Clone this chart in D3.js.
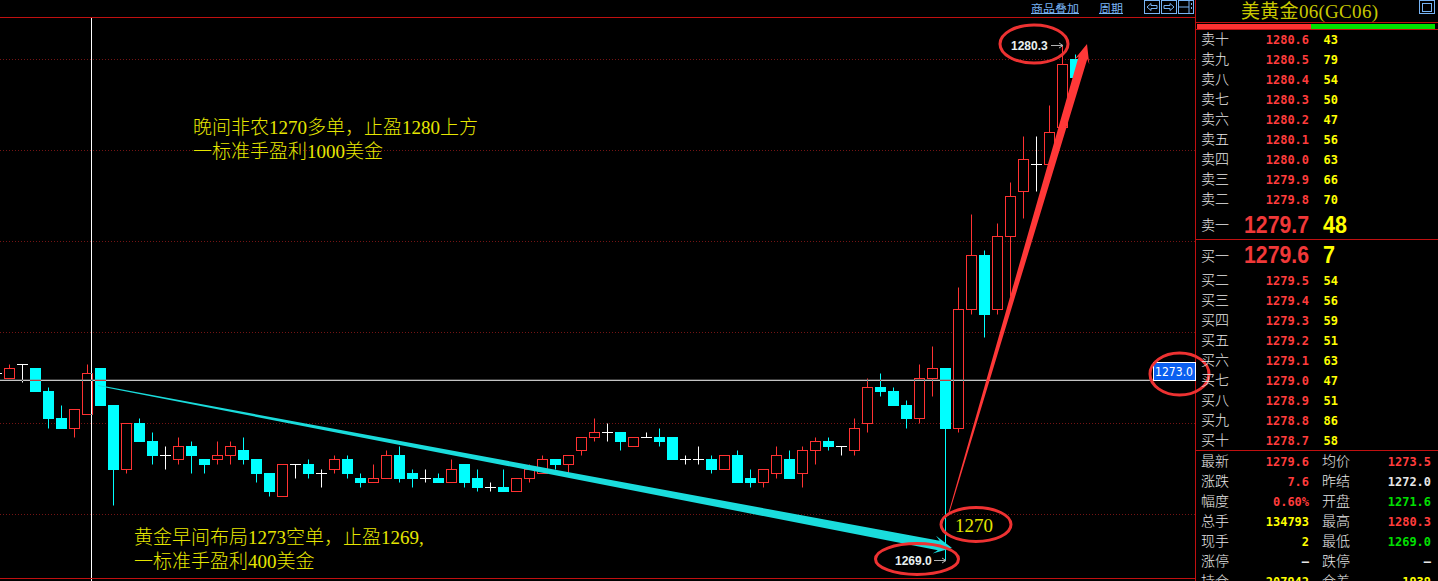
<!DOCTYPE html>
<html><head><meta charset="utf-8">
<script src="https://cdn.jsdelivr.net/npm/d3@7"></script>
<style>html,body{margin:0;padding:0;background:#000;overflow:hidden}svg{display:block}</style>
</head><body><div id="c"></div>
<script>
// candles: [open, close, high, low]
const candles=[
[1273.1,1273.1,1273.1,1273.1],
[1273.0,1273.2,1273.3,1273.0],[1273.3,1273.3,1273.3,1272.9],[1273.2,1272.7,1273.2,1272.7],[1272.7,1272.1,1272.8,1271.9],
[1272.1,1271.9,1272.4,1271.9],[1271.9,1272.3,1272.3,1271.7],[1272.2,1273.1,1273.3,1272.2],[1273.2,1272.4,1273.2,1272.4],
[1272.4,1271.0,1272.4,1270.2],[1271.0,1272.0,1272.0,1270.9],[1272.0,1271.6,1272.1,1271.6],[1271.6,1271.3,1271.8,1271.1],
[1271.3,1271.3,1271.5,1271.0],[1271.2,1271.5,1271.7,1271.1],[1271.5,1271.3,1271.6,1270.9],[1271.2,1271.1,1271.2,1270.9],
[1271.2,1271.3,1271.6,1271.1],[1271.3,1271.5,1271.6,1271.1],[1271.4,1271.2,1271.7,1271.1],[1271.2,1270.9,1271.2,1270.7],
[1270.9,1270.5,1270.9,1270.4],[1270.4,1271.1,1271.1,1270.4],[1271.1,1271.1,1271.1,1270.8],[1271.1,1270.9,1271.2,1270.8],
[1270.9,1270.9,1271.0,1270.6],[1271.0,1271.2,1271.3,1270.9],[1271.2,1270.9,1271.3,1270.8],[1270.8,1270.7,1270.9,1270.6],
[1270.7,1270.8,1271.1,1270.7],[1270.8,1271.3,1271.4,1270.8],[1271.3,1270.8,1271.5,1270.7],[1270.9,1270.8,1271.0,1270.6],
[1270.8,1270.8,1271.0,1270.7],[1270.8,1270.7,1270.9,1270.7],[1270.7,1271.0,1271.2,1270.7],[1271.1,1270.7,1271.1,1270.6],
[1270.8,1270.6,1271.0,1270.5],[1270.6,1270.6,1270.7,1270.5],[1270.6,1270.5,1271.0,1270.5],[1270.5,1270.8,1270.8,1270.5],
[1270.8,1271.0,1271.1,1270.7],[1270.9,1271.2,1271.3,1270.9],[1271.2,1271.1,1271.2,1271.0],[1271.1,1271.3,1271.3,1270.9],
[1271.4,1271.7,1271.7,1271.3],[1271.7,1271.8,1272.1,1271.6],[1271.8,1271.8,1272.0,1271.6],[1271.8,1271.6,1271.8,1271.4],
[1271.5,1271.7,1271.7,1271.5],[1271.7,1271.7,1271.8,1271.7],[1271.7,1271.6,1271.9,1271.5],[1271.7,1271.2,1271.7,1271.2],
[1271.2,1271.2,1271.3,1271.1],[1271.2,1271.2,1271.5,1271.1],[1271.2,1271.0,1271.3,1270.9],[1271.0,1271.3,1271.3,1271.0],
[1271.3,1270.7,1271.4,1270.7],[1270.8,1270.7,1271.0,1270.6],[1270.7,1271.0,1271.0,1270.6],[1270.9,1271.3,1271.5,1270.8],
[1271.2,1270.8,1271.4,1270.8],[1270.9,1271.4,1271.5,1270.6],[1271.4,1271.6,1271.7,1271.1],[1271.6,1271.5,1271.7,1271.4],
[1271.5,1271.5,1271.5,1271.3],[1271.4,1271.9,1272.1,1271.3],[1272.0,1272.8,1273.0,1271.8],[1272.8,1272.7,1273.1,1272.6],
[1272.7,1272.4,1272.8,1272.4],[1272.4,1272.1,1272.5,1271.9],[1272.1,1273.0,1273.3,1272.0],[1273.0,1273.2,1273.7,1272.6],
[1273.2,1271.9,1273.2,1269.0],[1271.9,1274.5,1275.0,1271.8],[1274.5,1275.7,1276.6,1274.4],[1275.7,1274.4,1275.8,1273.9],
[1274.5,1276.1,1276.4,1274.4],[1276.1,1277.0,1277.3,1274.8],[1277.1,1277.8,1278.3,1276.5],[1277.7,1277.7,1278.3,1277.1],
[1277.7,1278.4,1279.0,1277.7],[1278.5,1279.9,1280.3,1278.5],[1280.0,1279.6,1280.1,1279.6]
];
const gridPrices=[1270,1272,1274,1276,1278,1280];
const crossPrice=1272.95;
const maxPrice=1280.3, minPrice=1269.0;
const askLabels=["卖十","卖九","卖八","卖七","卖六","卖五","卖四","卖三","卖二"];
const askPrices=["1280.6","1280.5","1280.4","1280.3","1280.2","1280.1","1280.0","1279.9","1279.8"];
const askSizes=["43","79","54","50","47","56","63","66","70"];
const bidLabels=["买二","买三","买四","买五","买六","买七","买八","买九","买十"];
const bidPrices=["1279.5","1279.4","1279.3","1279.2","1279.1","1279.0","1278.9","1278.8","1278.7"];
const bidSizes=["54","56","59","51","63","47","51","86","58"];
const statLeftLabels=["最新","涨跌","幅度","总手","现手","涨停","持仓"];
const statLeftValues=["1279.6","7.6","0.60%","134793","2","—","207942"];
const statLeftColors=["#ff3c3c","#ff3c3c","#ff3c3c","#ffff00","#ffff00","#e8e8e8","#ffff00"];
const statRightLabels=["均价","昨结","开盘","最高","最低","跌停","仓差"];
const statRightValues=["1273.5","1272.0","1271.6","1280.3","1269.0","—","1939"];
const statRightColors=["#ff3c3c","#e8e8e8","#00e000","#ff3c3c","#00e000","#e8e8e8","#ffff00"];

const W=1438,H=581,RED="#ff3232",CY="#00ffff",GRID="#741414",FRAME="#c01010";
const cjk='"Noto Sans CJK SC"', serif='"Liberation Serif","Noto Sans CJK SC"', mono='"DejaVu Sans Mono",monospace';
const svg=d3.select("#c").append("svg").attr("width",W).attr("height",H).style("background","#000");
const x=d3.scaleLinear().domain([0,83]).range([-3.5,1075.5]);
const y=d3.scaleLinear().domain([1270,1280]).range([514.5,59.5]);
const py=p=>Math.round(y(p)-0.5)+0.5;

const plot=svg.append("g").style("isolation","isolate");
// grid
plot.selectAll("line.g").data(gridPrices).join("line").attr("class","g")
 .attr("x1",0).attr("x2",1195).attr("y1",d=>y(d)).attr("y2",d=>y(d))
 .attr("stroke",GRID).attr("stroke-dasharray","1,2");
// candles
candles.forEach((d,i)=>{
 const [o,c,h,l]=d,cx=x(i),col=c>o?RED:c<o?CY:"#ffffff";
 const top=py(Math.max(o,c)),bot=py(Math.min(o,c));
 const g=plot.append("g");
 g.append("line").attr("x1",cx).attr("x2",cx).attr("y1",py(h)).attr("y2",py(l)).attr("stroke",col);
 if(c>o){
  g.append("rect").attr("x",cx-5).attr("width",10).attr("y",top).attr("height",bot-top)
   .attr("fill","#000").attr("stroke",col);
 }else if(c<o){
  g.append("rect").attr("x",cx-5.5).attr("width",11).attr("y",top-0.5).attr("height",bot-top+1).attr("fill",col);
 }else{
  g.append("line").attr("x1",cx-5.5).attr("x2",cx+5.5).attr("y1",top).attr("y2",top).attr("stroke",col);
 }
});
// crosshair (XOR look)
plot.append("line").attr("x1",0).attr("x2",1153).attr("y1",y(crossPrice)).attr("y2",y(crossPrice))
 .attr("stroke","#fff").style("mix-blend-mode","difference");
plot.append("line").attr("x1",91.5).attr("x2",91.5).attr("y1",18).attr("y2",H)
 .attr("stroke","#fff").style("mix-blend-mode","difference");

// frame
const fr=(a,b,c,d,s=FRAME)=>svg.append("line").attr("x1",a).attr("y1",b).attr("x2",c).attr("y2",d).attr("stroke",s);
fr(0,17.5,1195,17.5); fr(1195.5,0,1195.5,H); fr(0,578.5,1195,578.5);
fr(1196,239.5,W,239.5); fr(1196,450.5,W,450.5);
fr(1196,22.5,W,22.5); fr(1196,29.5,W,29.5);
svg.append("rect").attr("x",1197).attr("y",24).attr("width",114).attr("height",5).attr("fill",RED);
svg.append("rect").attr("x",1311).attr("y",24).attr("width",124).attr("height",5).attr("fill","#00e000");

// top toolbar
const BL="#78b4f4";
const tb=(t,xx,w)=>{svg.append("text").text(t).attr("x",xx).attr("y",12.8).attr("fill",BL)
   .attr("font-family",cjk).attr("font-size",11).attr("textLength",w).attr("lengthAdjust","spacingAndGlyphs");
   svg.append("line").attr("x1",xx).attr("x2",xx+w).attr("y1",13.5).attr("y2",13.5).attr("stroke",BL);};
tb("商品叠加",1031,48); tb("周期",1099,24);
[1145,1162,1179,1420].forEach((bx,i)=>{
 svg.append("rect").attr("x",bx-.5).attr("y",.5).attr("width",15).attr("height",13).attr("fill","none").attr("stroke",BL);
 if(i===0) svg.append("path").attr("d",`M${bx+2} 7L${bx+6} 3.5V5.5H${bx+12}V8.5H${bx+6}V10.5Z`).attr("fill","none").attr("stroke",BL);
 if(i===1) svg.append("path").attr("d",`M${bx+12} 7L${bx+8} 3.5V5.5H${bx+2}V8.5H${bx+8}V10.5Z`).attr("fill","none").attr("stroke",BL);
 if(i===2) svg.append("path").attr("d",`M${bx} 7H${bx+10}M${bx+10} 1V13M${bx+12.5} 3V5M${bx+12.5} 7V9`).attr("fill","none").attr("stroke",BL);
 if(i===3) svg.append("rect").attr("x",bx+2.5).attr("y",3.5).attr("width",9).attr("height",8).attr("fill","none").attr("stroke",BL);
});

// annotations text
const note=(t,xx,yy)=>svg.append("text").text(t).attr("x",xx).attr("y",yy).attr("fill","#e6e600")
  .attr("font-family",serif).attr("font-size",19).attr("font-weight",300);
note("晚间非农1270多单，止盈1280上方",193,134);
note("一标准手盈利1000美金",193,158);
note("黄金早间布局1273空单，止盈1269,",134,544);
note("一标准手盈利400美金",134,568);
note("1270",955,532);

// extreme labels
const ext=(p,tx,ax)=>{
 svg.append("text").text(p.toFixed(1)).attr("x",tx).attr("y",py(p)+4).attr("fill","#e8f0f0")
  .attr("font-family",'"Liberation Sans"').attr("font-size",12).attr("font-weight",700);
 svg.append("path").attr("d",`M${ax} ${py(p)}H${ax+12}M${ax+8} ${py(p)-2.5}L${ax+12} ${py(p)}L${ax+8} ${py(p)+2.5}`)
  .attr("fill","none").attr("stroke","#b0b0b0");
};
ext(maxPrice,1011,1051); ext(minPrice,895,934);

// crosshair price tag
svg.append("rect").attr("x",1153.5).attr("y",362.5).attr("width",42).attr("height",18).attr("fill","#0a5ff0").attr("stroke","#fff");
svg.append("text").text("1273.0").attr("x",1155).attr("y",376).attr("fill","#fff")
 .attr("font-family",'"DejaVu Sans"').attr("font-size",12).attr("textLength",38).attr("lengthAdjust","spacingAndGlyphs");

// taper arrows
const arrow=(sx,sy,tx,ty,w0,w1,headLen,headW,col)=>{
 const L=Math.hypot(tx-sx,ty-sy),ux=(tx-sx)/L,uy=(ty-sy)/L,nx=-uy,ny=ux;
 const nk=L-headLen*0.75, bk=L-headLen;
 const P=(a,b)=>[sx+ux*a+nx*b,sy+uy*a+ny*b];
 const pts=[P(0,-w0/2),P(nk,-w1/2),P(bk,-headW/2),P(L,0),P(bk,headW/2),P(nk,w1/2),P(0,w0/2)];
 svg.append("polygon").attr("points",pts.map(p=>p.join(",")).join(" ")).attr("fill",col);
};
arrow(98,385.5,952,548,0.8,9.5,18,18,"#1adcdc");
arrow(948,516,1087,44,0.8,9,19,16,"#ff3838");

// ellipses
[[1034,44,34,19],[1179.5,374,29.5,21],[976,524.5,35,17],[917,559,41.5,15.5]].forEach(e=>{
 svg.append("ellipse").attr("cx",e[0]).attr("cy",e[1]).attr("rx",e[2]).attr("ry",e[3])
  .attr("fill","none").attr("stroke","#ee3232").attr("stroke-width",3);
});

// right panel
svg.append("text").text("美黄金06(GC06)").attr("x",1241).attr("y",18).attr("fill","#c8c800")
 .attr("font-family",serif).attr("font-size",19).attr("textLength",137);
const lab=(t,xx,yy)=>svg.append("text").text(t).attr("x",xx).attr("y",yy).attr("fill","#e8e8e8")
 .attr("font-family",cjk).attr("font-size",14).attr("font-weight",300);
const num=(t,xx,yy,col,anchor)=>svg.append("text").text(t).attr("x",xx).attr("y",yy).attr("fill",col)
 .attr("text-anchor",anchor).attr("font-family",mono).attr("font-weight",700).attr("font-size",13)
 .attr("textLength",t.length*7.2).attr("lengthAdjust","spacingAndGlyphs");
const big=(t,xx,yy,col,w)=>svg.append("text").text(t).attr("x",xx).attr("y",yy).attr("fill",col)
 .attr("font-family",'"Liberation Sans"').attr("font-weight",700).attr("font-size",23)
 .attr("textLength",w).attr("lengthAdjust","spacingAndGlyphs");
askLabels.forEach((t,i)=>{const yy=44+i*20;lab(t,1201,yy);num(askPrices[i],1309,yy,"#ff3c3c","end");num(askSizes[i],1323.5,yy,"#ffff00","start");});
bidLabels.forEach((t,i)=>{const yy=285+i*20;lab(t,1201,yy);num(bidPrices[i],1309,yy,"#ff3c3c","end");num(bidSizes[i],1323.5,yy,"#ffff00","start");});
lab("卖一",1201,230); big("1279.7",1244,233,"#f03838",65); big("48",1323,233,"#ffff00",24);
lab("买一",1201,261); big("1279.6",1244,263,"#f03838",65); big("7",1323,263,"#ffff00",12);
statLeftLabels.forEach((t,i)=>{const yy=466+i*20;
 lab(t,1201,yy);num(statLeftValues[i],1309,yy,statLeftColors[i],"end");
 lab(statRightLabels[i],1322,yy);num(statRightValues[i],1431,yy,statRightColors[i],"end");});
</script></body></html>
